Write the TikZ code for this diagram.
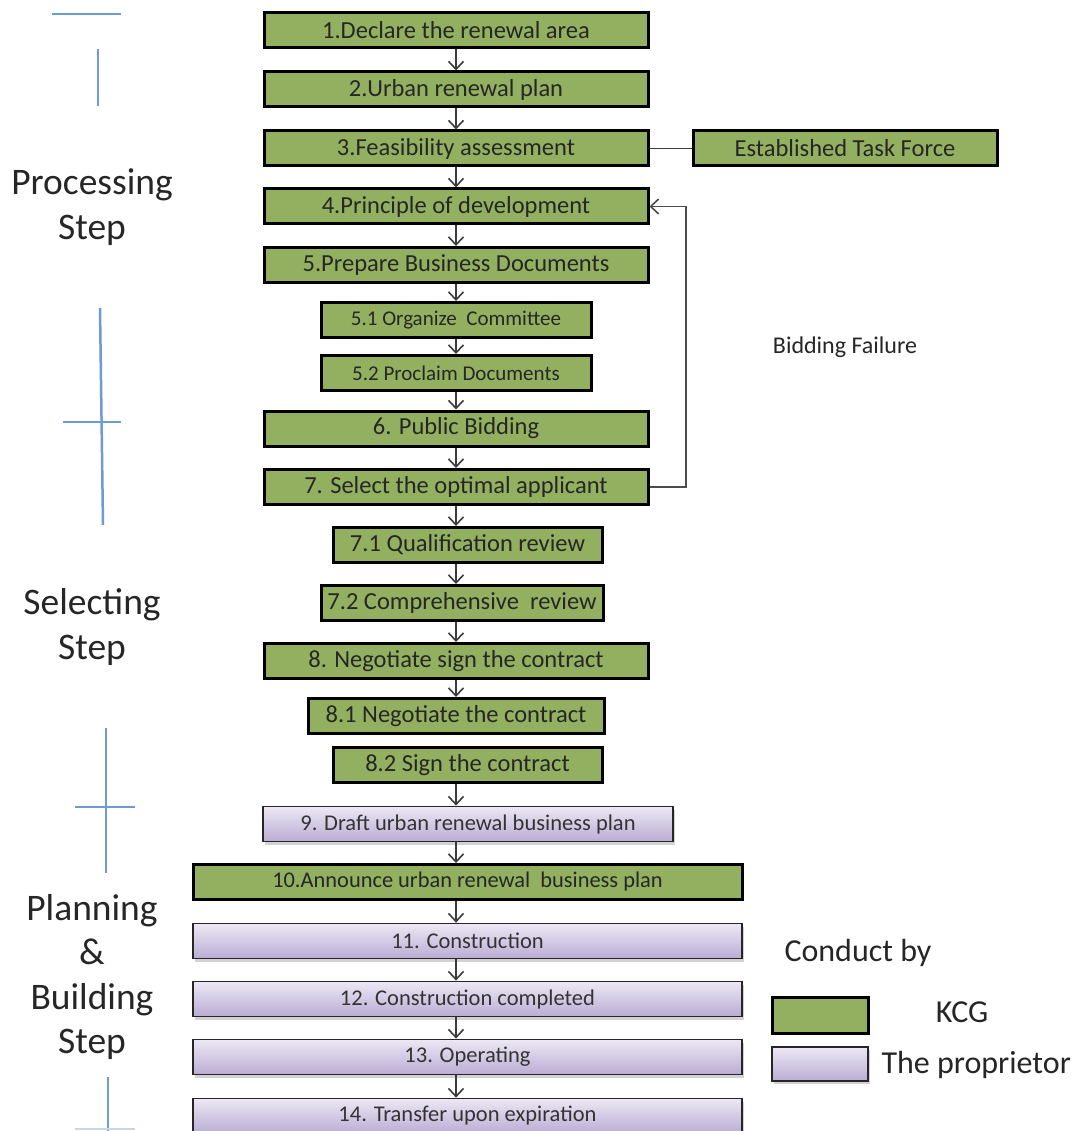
\documentclass[tikz,border=0pt]{standalone}
\usepackage{fontspec}
\setmainfont{Carlito}
\usetikzlibrary{arrows.meta,shadows}
\definecolor{kcg}{RGB}{146,176,96}
\definecolor{lavtop}{RGB}{236,232,244}
\definecolor{lavbot}{RGB}{186,172,212}
\definecolor{bluemark}{RGB}{110,155,210}
\definecolor{conn}{RGB}{60,60,60}
\newcommand{\fsz}[1]{\fontsize{#1}{#1}\selectfont}
\begin{document}
\begin{tikzpicture}[x=1pt,y=-1pt,
  gbox/.style={draw=black,line width=3pt,fill=kcg,minimum height=35pt,inner sep=0pt,text=black!85,font=\fsz{24.5}},
  pbox/.style={draw=black!85,line width=1.8pt,top color=lavtop,bottom color=lavbot,minimum height=35pt,inner sep=0pt,text=black!80,font=\fsz{22.5},drop shadow={shadow xshift=2pt,shadow yshift=-3pt,opacity=0.35}},
  arr/.style={draw=conn,line width=1.6pt,-{Straight Barb[length=8pt,width=15pt,line width=1.6pt]}},
  link/.style={draw=conn,line width=1.6pt},
  bmark/.style={draw=bluemark,line width=2.5pt},
  steplbl/.style={align=center,font=\fsz{37.5},text=black!85}
]
\useasboundingbox (0,0) rectangle (1080,1131);
\fill[white] (0,0) rectangle (1080,1131);
\coordinate (axis) at (456,0);
\coordinate (fb) at (686,0);

% main boxes
\node[gbox,minimum width=384pt] (n1) at (456,30.5) {1.Declare the renewal area};
\node[gbox,minimum width=384pt] (n2) at (456,89.5) {2.Urban renewal plan};
\node[gbox,minimum width=384pt] (n3) at (456,148.5) {3.Feasibility assessment};
\node[gbox,minimum width=304pt] (tf) at (845,148.5) {Established Task Force};
\node[gbox,minimum width=384pt] (n4) at (456,206.5) {4.Principle of development};
\node[gbox,minimum width=384pt] (n5) at (456,265) {5.Prepare Business Documents};
\node[gbox,minimum width=270pt,font=\fsz{21}] (n51) at (456,320) {5.1 Organize\ \ Committee};
\node[gbox,minimum width=270pt,font=\fsz{21}] (n52) at (456,373) {5.2 Proclaim Documents};
\node[gbox,minimum width=384pt] (n6) at (456,428.5) {6. Public Bidding};
\node[gbox,minimum width=384pt] (n7) at (456,487) {7. Select the optimal applicant};
\node[gbox,minimum width=269pt] (n71) at (467.5,545) {7.1 Qualification review};
\node[gbox,minimum width=282pt] (n72) at (462,603) {7.2 Comprehensive\ \ review};
\node[gbox,minimum width=384pt] (n8) at (456,661) {8. Negotiate sign the contract};
\node[gbox,minimum width=296pt] (n81) at (456,716) {8.1 Negotiate the contract};
\node[gbox,minimum width=269pt] (n82) at (467.5,765) {8.2 Sign the contract};
\node[pbox,minimum width=410pt] (n9) at (468,824) {9. Draft urban renewal business plan};
\node[gbox,minimum width=549pt,font=\fsz{22.4}] (n10) at (467.5,882) {10.Announce urban renewal\ \ business plan};
\node[pbox,minimum width=549pt] (n11) at (467.5,941) {11. Construction};
\node[pbox,minimum width=549pt] (n12) at (467.5,999) {12. Construction completed};
\node[pbox,minimum width=549pt] (n13) at (467.5,1057) {13. Operating};
\node[pbox,minimum width=549pt] (n14) at (467.5,1116) {14. Transfer upon expiration};

% arrows
\foreach \a/\b in {n1/n2,n2/n3,n3/n4,n4/n5,n5/n51,n51/n52,n52/n6,n6/n7,n7/n71,n71/n72,n72/n8,n8/n81,n82/n9,n9/n10,n10/n11,n11/n12,n12/n13,n13/n14}
  \draw[arr] (axis |- \a.south) -- (axis |- \b.north);

\draw[link] (n3.east) -- (tf.west);
\draw[arr,draw=black!70,line width=1.4pt] (n7.east) -- (n7.east -| fb) |- (n4.east);
\node[font=\fsz{24},text=black!85] (bf) at (845,347) {Bidding Failure};

% step labels
\node[steplbl] (ps) at (92,207) {Processing\\[7pt]Step};
\node[steplbl] (ss) at (92,627) {Selecting\\[7pt]Step};
\node[steplbl] (pb) at (92,977) {Planning\\[7pt]\&\\[7pt]Building\\[7pt]Step};

% blue markers
\draw[bmark] (52,14) -- (121,14);
\draw[bmark] (98,49) -- (98,106);
\draw[bmark] (100,308) -- (103,525);
\draw[bmark] (63,422) -- (121,422);
\draw[bmark] (106,728) -- (106,873);
\draw[bmark] (75,807) -- (135,807);
\draw[bmark] (108,1077) -- (108,1131);
\draw[bmark,draw=bluemark!40] (75,1129) -- (135,1129);

% legend
\node[font=\fsz{32},text=black!85] (cb) at (858,953) {Conduct by};
\node[gbox,minimum width=96pt,minimum height=36pt] (lg) at (820,1015) {};
\node[font=\fsz{32},text=black!85] (lgt) at (962,1012) {KCG};
\node[pbox,minimum width=96pt,minimum height=34pt] (lp) at (820,1064) {};
\node[font=\fsz{32},text=black!85,anchor=west] (lpt) at (878,1065) {The proprietor};
\end{tikzpicture}
\end{document}
